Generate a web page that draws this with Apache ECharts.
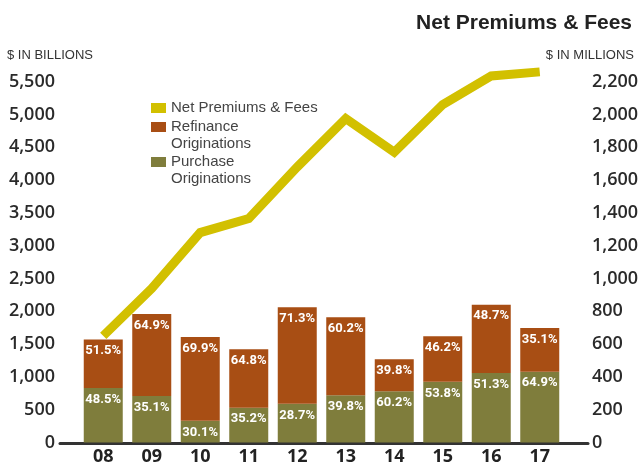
<!DOCTYPE html>
<html>
<head>
<meta charset="utf-8">
<script src="https://cdn.jsdelivr.net/npm/echarts@6/dist/echarts.min.js"></script>
<style>
  html, body { margin: 0; padding: 0; background: #fff; }
  #main { width: 643px; height: 466px; }
</style>
</head>
<body>
<div id="main"></div>
<script>
let years = ['08', '09', '10', '11', '12', '13', '14', '15', '16', '17'];
// $ in billions
let purchase = [830, 710, 330, 530, 590, 720, 780, 925, 1060, 1080];
let refinance = [740, 1250, 1280, 890, 1470, 1190, 490, 695, 1040, 665];
// $ in millions
let premiums = [650, 940, 1280, 1365, 1680, 1975, 1770, 2060, 2235, 2260];
let refiPct = ['51.5%', '64.9%', '69.9%', '64.8%', '71.3%', '60.2%', '39.8%', '46.2%', '48.7%', '35.1%'];
let purchPct = ['48.5%', '35.1%', '30.1%', '35.2%', '28.7%', '39.8%', '60.2%', '53.8%', '51.3%', '64.9%'];

let colorLine = '#d2c000';
let colorRefi = '#a84e14';
let colorPurch = '#7f7d3c';

let axisFont = {
    fontFamily: '"Open Sans", sans-serif',
    fontWeight: 600,
    fontSize: 18,
    color: '#2a2a2a'
};
let pctLabel = function (list) {
    return {
        show: true,
        position: 'insideTop',
        distance: 5,
        color: '#fff',
        fontFamily: 'Roboto, sans-serif',
        fontWeight: 'bold',
        fontSize: 13,
        formatter: function (p) {
            return list[p.dataIndex];
        }
    };
};

// legend drawn as plain graphic blocks (icon sits on first text line)
let legendFont = '15px "Liberation Sans", sans-serif';
let legendRows = [
    { color: colorLine, text: 'Net Premiums & Fees', top: 103 },
    { color: colorRefi, text: 'Refinance\nOriginations', top: 122 },
    { color: colorPurch, text: 'Purchase\nOriginations', top: 157 }
];
let legendGraphics = [];
legendRows.forEach(function (r) {
    legendGraphics.push({
        type: 'rect',
        left: 151,
        top: r.top,
        shape: { width: 15, height: 10 },
        style: { fill: r.color }
    });
    legendGraphics.push({
        type: 'text',
        left: 171,
        top: r.top - 4,
        style: { text: r.text, font: legendFont, fill: '#444', lineHeight: 17 }
    });
});

let option = {
    animation: false,
    title: [
        {
            text: 'Net Premiums & Fees',
            right: 6,
            top: 8,
            textStyle: { fontFamily: '"Liberation Sans", sans-serif', fontWeight: 'bold', fontSize: 21, color: '#222' }
        },
        {
            text: '$ IN BILLIONS',
            left: 2,
            top: 44,
            textStyle: { fontFamily: '"Liberation Sans", sans-serif', fontWeight: 'normal', fontSize: 13, color: '#333' }
        },
        {
            text: '$ IN MILLIONS',
            right: 4,
            top: 44,
            textStyle: { fontFamily: '"Liberation Sans", sans-serif', fontWeight: 'normal', fontSize: 13, color: '#333' }
        }
    ],
    grid: [
        { left: 79, right: 79, top: 81.7, bottom: 23.5 },
        { left: 60, right: 55, top: 81.7, bottom: 22.5 }
    ],
    xAxis: [
        {
            type: 'category',
            gridIndex: 0,
            data: years,
            axisLine: { show: false },
            axisTick: { show: false },
            axisLabel: Object.assign({ margin: 5 }, axisFont, { fontWeight: 700, color: '#222' })
        },
        {
            type: 'category',
            gridIndex: 1,
            data: [''],
            axisLine: { show: true, lineStyle: { color: '#333', width: 3 } },
            axisTick: { show: false },
            axisLabel: { show: false }
        }
    ],
    yAxis: [
        {
            type: 'value',
            gridIndex: 0,
            min: 0,
            max: 5500,
            interval: 500,
            axisLine: { show: false },
            axisTick: { show: false },
            splitLine: { show: false },
            axisLabel: Object.assign({ margin: 24 }, axisFont)
        },
        {
            type: 'value',
            gridIndex: 0,
            position: 'right',
            min: 0,
            max: 2200,
            interval: 200,
            axisLine: { show: false },
            axisTick: { show: false },
            splitLine: { show: false },
            axisLabel: Object.assign({ margin: 28 }, axisFont)
        },
        {
            type: 'value',
            gridIndex: 1,
            show: false
        }
    ],
    graphic: legendGraphics,
    series: [
        {
            name: 'Purchase Originations',
            type: 'bar',
            stack: 'orig',
            barWidth: 39,
            itemStyle: { color: colorPurch },
            label: pctLabel(purchPct),
            data: purchase
        },
        {
            name: 'Refinance Originations',
            type: 'bar',
            stack: 'orig',
            barWidth: 39,
            itemStyle: { color: colorRefi },
            label: pctLabel(refiPct),
            data: refinance
        },
        {
            name: 'Net Premiums & Fees',
            type: 'line',
            yAxisIndex: 1,
            z: 5,
            clip: false,
            symbol: 'none',
            lineStyle: { color: colorLine, width: 9, cap: 'butt', join: 'miter' },
            data: premiums
        }
    ]
};

let chart = echarts.init(document.getElementById('main'));
chart.setOption(option);
</script>
</body>
</html>
